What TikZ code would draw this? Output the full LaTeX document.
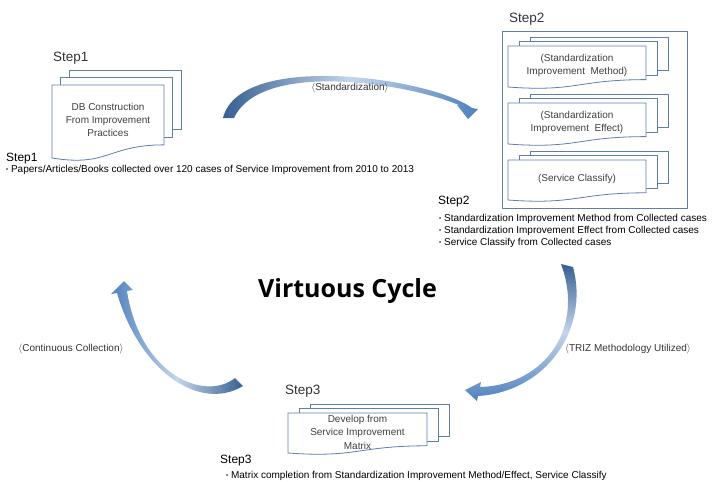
\documentclass[tikz,border=0pt]{standalone}
\usepackage{fontspec}
\setmainfont{Liberation Sans}
\newfontfamily\titlefont{Open Sans}
\usetikzlibrary{calc}

\definecolor{sheetline}{RGB}{96,125,175}
\definecolor{arrowdark}{RGB}{55,96,146}
\definecolor{arrowmid}{RGB}{79,129,189}
\definecolor{arrowlight}{RGB}{196,213,235}
\definecolor{doctext}{RGB}{64,64,64}

\tikzstyle{sheet} = [draw=sheetline, fill=white, line width=0.8pt]
\tikzstyle{doclabel} = [align=center, text=doctext, font=\fontsize{10}{13.3}\selectfont]
\tikzstyle{steplabel} = [anchor=base west, inner sep=0pt, text=black!80, font=\fontsize{13.5}{16}\selectfont]
\tikzstyle{stephead} = [anchor=base west, inner sep=0pt, font=\fontsize{12}{14}\selectfont]
\tikzstyle{bullet} = [anchor=base west, inner sep=0pt, font=\fontsize{10}{12}\selectfont]
\tikzstyle{cyclelabel} = [text=black!80, font=\fontsize{10}{12}\selectfont]

% small bullet mark in front of each item
\newcommand{\itemdot}{{\fontsize{6}{6}\selectfont\raisebox{0.5pt}{\textbullet}}\ }

% stack of three sheets: name, x, y (top left of front sheet), width, height, dx, dy, text
\newcommand{\multidoc}[8]{
  \draw[sheet] (#2+2*#6,#3-2*#7) rectangle ++(#4,0.82*#5);
  \draw[sheet] (#2+#6,#3-#7) rectangle ++(#4,0.82*#5);
  \draw[sheet] (#2,#3) -- ++(#4,0) -- ++(0,0.82*#5) .. controls ++(-0.5*#4,0) and (#2+0.5*#4,#3+1.126*#5) .. (#2,#3+#5) -- cycle;
  \node[doclabel] (#1) at (#2+0.5*#4,#3+0.48*#5) {#8};
}

\begin{document}
\begin{tikzpicture}[x=1pt, y=-1pt]
\useasboundingbox (0,0) rectangle (713,482);

% Step 1 - collection
\node[steplabel] (stepONElabel) at (53,61) {Step1};
\multidoc{dbDOC}{52}{85}{112}{73}{8.5}{7.5}{DB Construction\\From Improvement\\Practices}
\node[stephead] (stepONEhead) at (6,161) {Step1};
\node[bullet] (stepONEa) at (6,172) {\itemdot Papers/Articles/Books collected over 120 cases of Service Improvement from 2010 to 2013};

% Step 2 - standardization
\node[steplabel] (stepTWOlabel) at (509,22.5) {Step2};
\node[draw=sheetline, line width=0.8pt, minimum width=185pt, minimum height=177pt, inner sep=0pt] (stepTWObox) at (594.5,119.5) {};
\multidoc{methodDOC}{508}{46}{138}{41}{11}{4.5}{(Standardization\\Improvement~ Method)}
\multidoc{effectDOC}{508}{103}{138}{41}{11}{4.5}{(Standardization\\Improvement~ Effect)}
\multidoc{classifyDOC}{508}{160}{138}{40}{11}{4.5}{(Service Classify)}
\node[stephead] (stepTWOhead) at (438,204) {Step2};
\node[bullet] (stepTWOa) at (439,221) {\itemdot Standardization Improvement Method from Collected cases};
\node[bullet] (stepTWOb) at (439,233) {\itemdot Standardization Improvement Effect from Collected cases};
\node[bullet] (stepTWOc) at (439,245) {\itemdot Service Classify from Collected cases};

% Step 3 - matrix
\node[steplabel] (stepTHREElabel) at (285,394) {Step3};
\multidoc{matrixDOC}{288}{413}{139}{40}{11}{4.5}{Develop from\\Service Improvement\\Matrix}
\node[stephead] (stepTHREEhead) at (220,463) {Step3};
\node[bullet] (stepTHREEa) at (226,478) {\itemdot Matrix completion from Standardization Improvement Method/Effect, Service Classify};

% Cycle title
\node[anchor=base, inner sep=0pt, font=\titlefont\bfseries\fontsize{25}{30}\selectfont] (cycleTITLE) at (347.5,297) {Virtuous Cycle};

% Curved arrows
\path[left color=arrowdark, right color=arrowmid, middle color=arrowlight]
  (223,118) .. controls (240,50) and (432,78) .. (472,108) -- (478,109) -- (468,119) -- (457,105) -- (461,106)
  .. controls (415,85) and (262,58) .. (234,118) -- cycle;
\path[top color=arrowdark, bottom color=arrowmid, middle color=arrowlight]
  (573,267) .. controls (590,330) and (545,392) .. (478,396) -- (477,401) -- (465,390) -- (481,382) -- (480,387)
  .. controls (545,385) and (585,328) .. (561,264) -- cycle;
\path[left color=arrowmid, right color=arrowdark, middle color=arrowlight]
  (243,386) .. controls (200,412) and (140,372) .. (117,293) -- (111,294) -- (124,281) -- (133,290) -- (127,291)
  .. controls (140,375) and (205,402) .. (235,378) -- cycle;

% Arrow labels
\node[cyclelabel] (stdLABEL) at (350,88) {$\langle$Standardization$\rangle$};
\node[cyclelabel] (trizLABEL) at (628,349) {$\langle$TRIZ Methodology Utilized$\rangle$};
\node[cyclelabel] (collectLABEL) at (71,349) {$\langle$Continuous Collection$\rangle$};

\end{tikzpicture}
\end{document}
